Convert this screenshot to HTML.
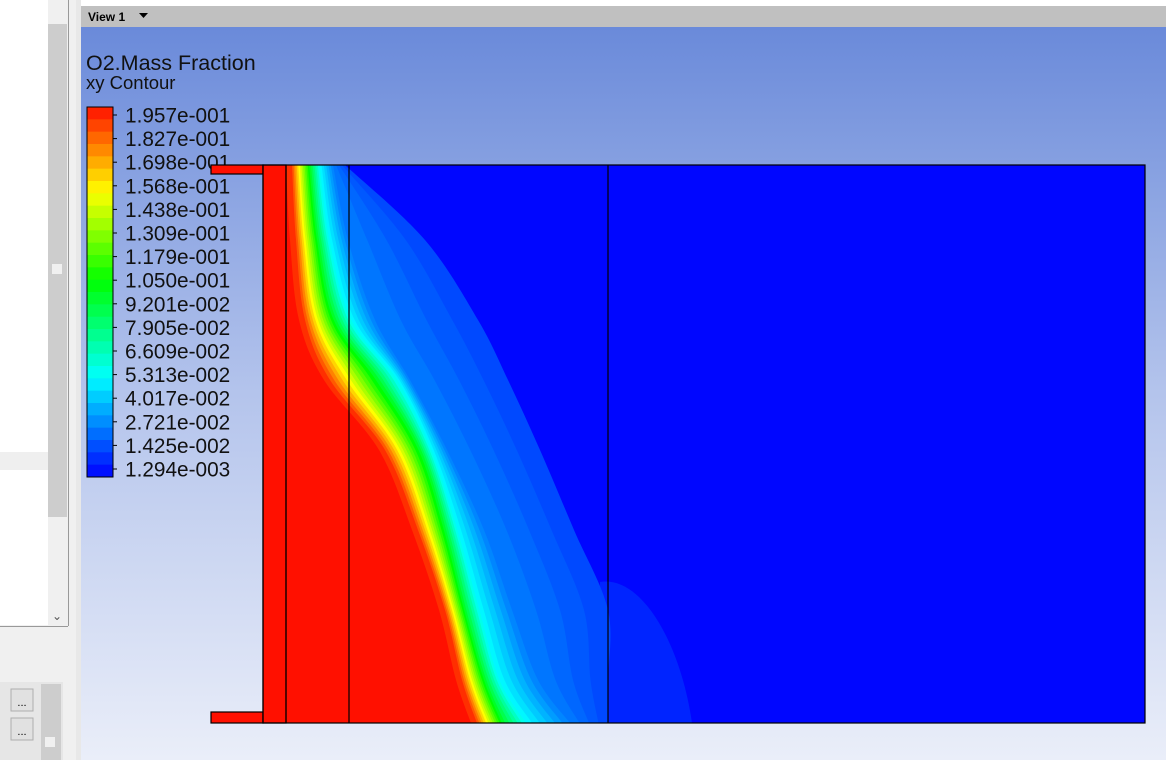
<!DOCTYPE html>
<html><head><meta charset="utf-8"><style>
html,body{margin:0;padding:0;width:1166px;height:760px;overflow:hidden;background:#fff;font-family:"Liberation Sans",sans-serif;}
</style></head><body>
<svg width="1166" height="760" viewBox="0 0 1166 760" xmlns="http://www.w3.org/2000/svg">
<defs>
<linearGradient id="bg" x1="0" y1="0" x2="0" y2="1">
<stop offset="0" stop-color="#6a8ada"/><stop offset="0.5" stop-color="#b4c4ec"/><stop offset="1" stop-color="#eaeef9"/>
</linearGradient>
<clipPath id="dom"><rect x="286" y="165" width="859" height="558"/></clipPath>
</defs>
<rect x="0" y="0" width="81" height="760" fill="#f0f0f0"/>
<rect x="0" y="0" width="48" height="625" fill="#ffffff"/>
<rect x="0" y="452" width="48" height="18" fill="#efefef"/>
<rect x="48" y="0" width="19" height="625" fill="#f0f0f0"/>
<rect x="48" y="24" width="19" height="493" fill="#cdcdcd"/>
<rect x="52" y="264" width="10" height="10" fill="#f0f0f0"/>
<text x="57" y="620" font-size="12" fill="#555" text-anchor="middle">⌄</text>
<line x1="68.5" y1="0" x2="68.5" y2="626" stroke="#999"/>
<line x1="0" y1="626.5" x2="68" y2="626.5" stroke="#999"/>
<rect x="0" y="682" width="63" height="78" fill="#e6e6e6"/>
<rect x="11" y="689" width="22" height="22" fill="#e1e1e1" stroke="#adadad"/>
<text x="22" y="706" font-size="11" text-anchor="middle">...</text>
<rect x="11" y="718" width="22" height="22" fill="#e1e1e1" stroke="#adadad"/>
<text x="22" y="735" font-size="11" text-anchor="middle">...</text>
<rect x="41" y="684" width="20" height="76" fill="#cdcdcd"/>
<rect x="45" y="737" width="10" height="10" fill="#f0f0f0"/>
<rect x="76" y="0" width="5" height="760" fill="#e8e8e8"/>
<rect x="81" y="0" width="1085" height="6" fill="#ffffff"/>
<rect x="81" y="6" width="1085" height="21" fill="#c0c0c0"/>
<text x="88" y="21" font-size="12" font-weight="bold" fill="#000">View 1</text>
<polygon points="139,13 148,13 143.5,18" fill="#000"/>
<rect x="81" y="27" width="1085" height="733" fill="url(#bg)"/>
<text x="86" y="70" font-size="21.5" fill="#111">O2.Mass Fraction</text>
<text x="86" y="89" font-size="18.5" fill="#111">xy Contour</text>
<g id="legend"></g>
<g id="field"></g>
<g fill="none" stroke="#000" stroke-width="1.2">
<rect x="211" y="165" width="52" height="9" fill="#ff1000"/>
<rect x="211" y="712" width="52" height="11" fill="#ff1000"/>
<rect x="263" y="165" width="23" height="558" fill="#ff1000"/>
<rect x="263" y="165" width="882" height="558"/>
<line x1="286" y1="165" x2="286" y2="723"/>
<line x1="349" y1="165" x2="349" y2="723"/>
<line x1="608" y1="165" x2="608" y2="723"/>
</g>
</svg>
<script>
const legendLabels = ["1.957e-001","1.827e-001","1.698e-001","1.568e-001","1.438e-001","1.309e-001","1.179e-001","1.050e-001","9.201e-002","7.905e-002","6.609e-002","5.313e-002","4.017e-002","2.721e-002","1.425e-002","1.294e-003"];
const sampleY = [165,240,320,380,450,530,610,680,723];
const isoLevels = [0.96, 0.5, 0.27, 0.1, 0.02];
const isoRed   = [292,296,305,330,385,418,445,462,477];
const isoGreen = [310,318,335,378,420,445,465,485,503];
const isoCyan  = [320,330,352,398,432,458,480,500,527];
const isoBlue  = [333,348,375,410,447,484,512,538,570];
const isoTail  = [345,425,478,508,540,574,608,608,608];
const isoCurves = [isoRed, isoGreen, isoCyan, isoBlue, isoTail];
const NS = "http://www.w3.org/2000/svg";
function colorOf(f){
  const st=[[0,[0,0,255]],[0.27,[0,255,255]],[0.53,[0,255,0]],[0.77,[255,255,0]],[1,[255,16,0]]];
  for(let i=1;i<st.length;i++){ if(f<=st[i][0]){const a=st[i-1],b=st[i];const t=(f-a[0])/(b[0]-a[0]);
    const c=a[1].map((v,j)=>Math.round(v+(b[1][j]-v)*t));return `rgb(${c[0]},${c[1]},${c[2]})`;}}
  return "rgb(255,16,0)";
}
function fieldColor(f){
  if(f<0.27){const g=Math.round(50+(255-50)*f/0.27);return `rgb(0,${g},255)`;}
  return colorOf(f);
}
function curveFor(f){
  let i=0; while(i<isoLevels.length-1 && f<isoLevels[i+1]) i++;
  if(f>=isoLevels[0]) return isoCurves[0].map(x=>x-(f-isoLevels[0])*200);
  if(i>=isoLevels.length-1) return isoCurves[isoCurves.length-1].map(x=>x+(isoLevels[isoLevels.length-1]-f)*400);
  const t=(isoLevels[i]-f)/(isoLevels[i]-isoLevels[i+1]);
  return isoCurves[i].map((x,j)=>x+(isoCurves[i+1][j]-x)*t);
}
function smoothPath(xs){
  const P=xs.map((x,i)=>[x,sampleY[i]]);
  let d=`M286,165 L${P[0][0]},${P[0][1]}`;
  for(let i=0;i<P.length-1;i++){
    const p0=P[Math.max(0,i-1)],p1=P[i],p2=P[i+1],p3=P[Math.min(P.length-1,i+2)];
    const c1=[p1[0]+(p2[0]-p0[0])/6,p1[1]+(p2[1]-p0[1])/6];
    const c2=[p2[0]-(p3[0]-p1[0])/6,p2[1]-(p3[1]-p1[1])/6];
    d+=` C${c1[0]},${c1[1]} ${c2[0]},${c2[1]} ${p2[0]},${p2[1]}`;
  }
  return d+` L286,723 Z`;
}
const lg=document.getElementById('legend');
const nb=30, lx=87, ly=107, lw=26, lh=370;
for(let k=0;k<nb;k++){
  const r=document.createElementNS(NS,'rect');
  
  
  r.setAttribute('x',lx);r.setAttribute('y',ly+k*lh/nb);r.setAttribute('width',lw);r.setAttribute('height',lh/nb+0.5);
  r.setAttribute('fill',colorOf(1-(k+0.5)/nb));lg.appendChild(r);
}
const fr=document.createElementNS(NS,'rect');


fr.setAttribute('x',lx);fr.setAttribute('y',ly);fr.setAttribute('width',lw);fr.setAttribute('height',lh);
fr.setAttribute('fill','none');fr.setAttribute('stroke','#000');lg.appendChild(fr);
legendLabels.forEach((s,i)=>{
  const y=ly+8+i*(lh-16)/(legendLabels.length-1);
  const t=document.createElementNS(NS,'line');
  
  
  t.setAttribute('x1',lx+lw);t.setAttribute('x2',lx+lw+4);t.setAttribute('y1',y);t.setAttribute('y2',y);t.setAttribute('stroke','#000');lg.appendChild(t);
  const tx=document.createElementNS(NS,'text');
  
  
  tx.setAttribute('x',125);tx.setAttribute('y',y+7.5);tx.setAttribute('font-size','20.8');tx.setAttribute('fill','#111');
  tx.textContent=s;lg.appendChild(tx);
});
const fg=document.getElementById('field');
fg.setAttribute('clip-path','url(#dom)');
const base=document.createElementNS(NS,'rect');


base.setAttribute('x',286);base.setAttribute('y',165);base.setAttribute('width',859);base.setAttribute('height',558);base.setAttribute('fill','rgb(0,6,255)');
fg.appendChild(base);
const bulge=document.createElementNS(NS,'path');


bulge.setAttribute('d','M600,582 C640,575 680,640 692,723 L600,723 Z');bulge.setAttribute('fill','rgb(0,36,255)');
fg.appendChild(bulge);
const levels=[0.02,0.04,0.06,0.08,0.1,0.13,0.16,0.19,0.22,0.25,0.28,0.32,0.36,0.4,0.44,0.48,0.52,0.56,0.6,0.64,0.68,0.72,0.76,0.8,0.84,0.88,0.92,0.96,0.99];
levels.forEach(f=>{
  const p=document.createElementNS(NS,'path');
  
  
  p.setAttribute('d',smoothPath(curveFor(f)));
  p.setAttribute('fill',fieldColor(Math.min(1,f+0.01)));
  fg.appendChild(p);
});
</script>
</body></html>
